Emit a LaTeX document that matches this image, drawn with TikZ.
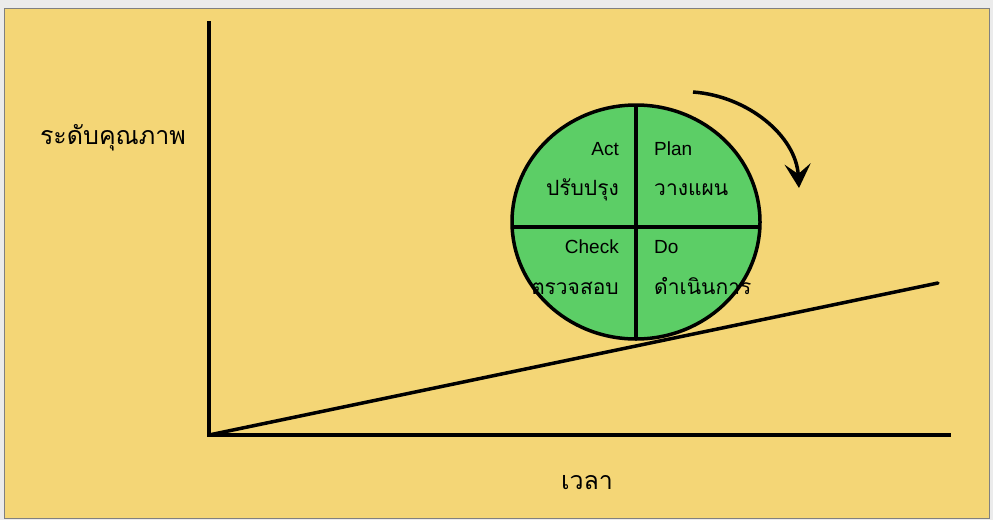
\documentclass[tikz,border=0pt]{standalone}
\usepackage{fontspec}
\setmainfont{Liberation Sans}
\newfontfamily\thaifont[Script=Thai]{Loma}
\usetikzlibrary{arrows.meta,positioning,shapes.geometric}

\definecolor{sand}{RGB}{244,214,118}
\definecolor{leaf}{RGB}{92,206,102}

\begin{document}
\begin{tikzpicture}[
    x=1pt, y=-1pt,
    axis/.style={line width=3.5pt},
    trend/.style={line width=3.5pt, line cap=round},
    pdca/.style={ellipse, fill=leaf, minimum width=248pt, minimum height=234pt, inner sep=0pt},
    rim/.style={line width=3.5pt},
    divider/.style={line width=3.5pt},
    eng/.style={font=\fontsize{19}{22}\selectfont, inner sep=0pt},
    thai/.style={font=\thaifont\fontsize{21}{24}\selectfont, inner sep=0pt},
    thaiaxis/.style={font=\thaifont\fontsize{25}{28}\selectfont, inner sep=0pt},
    turn/.style={line width=3.5pt, -{Stealth[length=24pt,width=26pt,inset=10pt]}},
]
\useasboundingbox (0,0) rectangle (993,520);

%----------------------------------
% Frame
%----------------------------------
\fill[white!92!black] (0,0) rectangle (993,520);
\filldraw[fill=sand, draw=gray, line width=1pt] (4,8) rectangle (989,518);

%----------------------------------
% Axes and trend
%----------------------------------
\coordinate (origin) at (209,435);
\coordinate (yTop) at (209,21);
\coordinate (xEnd) at (951,435);
\coordinate (trendEnd) at (938,283);

\draw[axis] (yTop) -- (origin) -- (xEnd);
\draw[trend] (origin) -- (trendEnd);

\node[thaiaxis, anchor=base] (quality) at (113,144) {ระดับคุณภาพ};
\node[thaiaxis, anchor=base] (time) at (587,489) {เวลา};

%----------------------------------
% PDCA wheel
%----------------------------------
\node[pdca] (cycle) at (636,222) {};

\draw[divider] (cycle.north) -- (cycle.south);
\draw[divider] ([yshift=-5pt]cycle.west) -- ([yshift=-5pt]cycle.east);

\node[eng, anchor=base east] (actEn) at (619,155) {Act};
\node[thai, below=40pt of actEn.base east, anchor=base east] (actTh) {ปรับปรุง};

\node[eng, anchor=base west] (planEn) at (654,155) {Plan};
\node[thai, below=40pt of planEn.base west, anchor=base west] (planTh) {วางแผน};

\node[eng, anchor=base east] (checkEn) at (619,253) {Check};
\node[thai, below=41pt of checkEn.base east, anchor=base east] (checkTh) {ตรวจสอบ};

\node[eng, anchor=base west] (doEn) at (654,253) {Do};
\node[thai, below=41pt of doEn.base west, anchor=base west] (doTh) {ดำเนินการ};

\draw[rim] (cycle.center) ellipse [x radius=124, y radius=117];

%----------------------------------
% Direction of turn
%----------------------------------
\coordinate (turnStart) at (693,92);
\coordinate (turnEnd) at (799,188);

\draw[turn] (turnStart) .. controls (748,96) and (796,136) .. (turnEnd);

\end{tikzpicture}
\end{document}
